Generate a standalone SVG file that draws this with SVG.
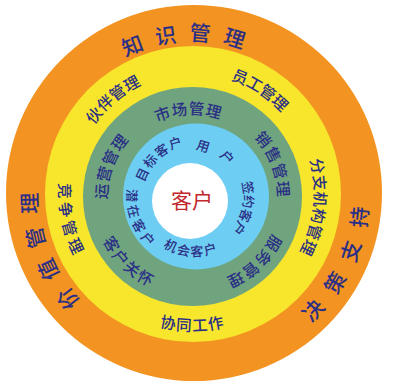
<svg xmlns="http://www.w3.org/2000/svg" width="398" height="389" viewBox="0 0 398 389">
<style>
text{font-family:"Noto Sans CJK SC","Noto Sans",sans-serif;fill:#2B2F85;font-weight:500;dominant-baseline:central;text-anchor:middle}
textPath{dominant-baseline:central}
.o{font-size:21px;letter-spacing:14px}
.y{font-size:15.5px}
.g{font-size:15.5px}
.b{font-size:13px}
.c{font-size:21px;fill:#C1272D;font-weight:400}
</style>
<defs>
<path id="p1" d="M33.05,197.21 A161,161 0 0 1 354.95,188.79"/>
<path id="p2" d="M249.19,350.61 A167,167 0 0 1 138.81,35.39"/>
<path id="p3" d="M126.08,345.56 A167,167 0 0 0 261.92,40.44"/>
<path id="p4" d="M94.19,276.92 A129,129 0 0 1 291.81,111.08"/>
<path id="p5" d="M85.65,124.29 A128,128 0 0 1 300.35,263.71"/>
<path id="p6" d="M207.60,65.83 A129,129 0 0 1 178.40,322.17"/>
<path id="p7" d="M166.39,68.80 A128,128 0 0 0 219.61,319.20"/>
<path id="p8" d="M63,193.09 A130,130 0 0 0 323,194.91"/>
<path id="p9" d="M103.57,200.07 A89,89 0 0 1 281.43,192.93"/>
<path id="p10" d="M160.13,282.62 A92,92 0 0 1 224.87,110.38"/>
<path id="p11" d="M159.53,110.61 A92,92 0 0 1 225.47,282.39"/>
<path id="p12" d="M261.98,131.71 A95,95 0 0 1 123.02,261.29"/>
<path id="p13" d="M126.28,131.20 A93,93 0 0 0 258.72,261.80"/>
<path id="p14" d="M151.16,236.48 A59,59 0 0 1 238.84,157.52"/>
<path id="p15" d="M150.06,168.92 A53,53 0 0 1 239.94,225.08"/>
<path id="p16" d="M207.84,143.52 A55,55 0 0 1 182.16,250.48"/>
<path id="p17" d="M141.21,192.29 A54,54 0 0 0 248.79,201.71"/>
<path id="p18" d="M172.38,139.27 A62,62 0 0 0 217.62,254.73"/>
</defs>
<rect width="398" height="389" fill="#ffffff"/>
<g id="ring-knowledge">
<circle cx="194" cy="193" r="188" fill="#F39322"/>
<text class="o"><textPath href="#p1" startOffset="50%">知识管理</textPath></text>
<text class="o"><textPath href="#p2" startOffset="50%">价值管理</textPath></text>
<text class="o"><textPath href="#p3" startOffset="50%">决策支持</textPath></text>
</g>
<g id="ring-management">
<circle cx="193" cy="194" r="148" fill="#F7E62C"/>
<text class="y" letter-spacing="1.2"><textPath href="#p4" startOffset="50%">伙伴管理</textPath></text>
<text class="y" letter-spacing="0.6"><textPath href="#p5" startOffset="50%">员工管理</textPath></text>
<text class="y" letter-spacing="1.4"><textPath href="#p6" startOffset="50%">分支机构管理</textPath></text>
<text class="y" letter-spacing="3.3"><textPath href="#p7" startOffset="50%">竞争管理</textPath></text>
<text class="y" letter-spacing="0.3"><textPath href="#p8" startOffset="50%">协同工作</textPath></text>
</g>
<g id="ring-market">
<circle cx="192.5" cy="196.5" r="109.5" fill="#6FA47F"/>
<text class="g" letter-spacing="2.2"><textPath href="#p9" startOffset="50%">市场管理</textPath></text>
<text class="g" letter-spacing="2.3"><textPath href="#p10" startOffset="50%">运营管理</textPath></text>
<text class="g" letter-spacing="2.7"><textPath href="#p11" startOffset="50%">销售管理</textPath></text>
<text class="g" letter-spacing="2.5"><textPath href="#p12" startOffset="50%">服务管理</textPath></text>
<text class="g" letter-spacing="0.5"><textPath href="#p13" startOffset="50%">客户关怀</textPath></text>
</g>
<g id="ring-customers">
<circle cx="196" cy="196.5" r="73" fill="#6DCDF2"/>
<text class="b" letter-spacing="2.9"><textPath href="#p14" startOffset="50%">目标客户</textPath></text>
<text class="b" letter-spacing="14.3"><textPath href="#p15" startOffset="50%">用户</textPath></text>
<text class="b" letter-spacing="1.5"><textPath href="#p16" startOffset="50%">签约客户</textPath></text>
<text class="b" letter-spacing="0.2"><textPath href="#p17" startOffset="50%">机会客户</textPath></text>
<text class="b" letter-spacing="2.5"><textPath href="#p18" startOffset="50%">潜在客户</textPath></text>
</g>
<g id="core">
<circle cx="190" cy="201" r="38" fill="#ffffff"/>
<text class="c" x="192" y="199">客户</text>
</g>
</svg>
